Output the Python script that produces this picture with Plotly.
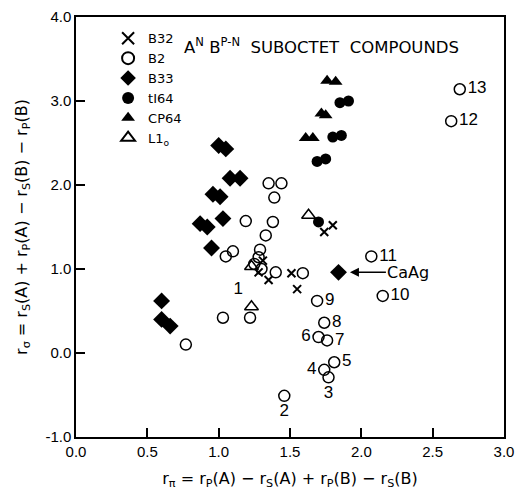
import plotly.graph_objects as go

# ---- data ----
b32_x = [1.31, 1.28, 1.35, 1.51, 1.55, 1.74, 1.80]
b32_y = [1.10, 0.96, 0.87, 0.95, 0.76, 1.44, 1.52]

b2_x = [1.35, 1.44, 1.39, 1.19, 1.38, 1.33, 1.29, 1.28, 1.25, 1.30, 1.40, 1.59,
        1.05, 1.10, 1.03, 1.22, 0.77,
        1.46, 1.77, 1.74, 1.81, 1.70, 1.76, 1.74, 1.69, 2.15, 2.07, 2.63, 2.69]
b2_y = [2.02, 2.02, 1.85, 1.57, 1.56, 1.40, 1.23, 1.14, 1.06, 1.00, 0.96, 0.95,
        1.15, 1.21, 0.42, 0.42, 0.10,
        -0.51, -0.29, -0.20, -0.11, 0.19, 0.15, 0.36, 0.62, 0.68, 1.15, 2.76, 3.14]
b2_labels = [""] * 17 + ["2", "3", "4", "5", "6", "7", "8", "9", "10", "11", "12", "13"]
b2_labelpos = ["middle right"] * 17 + ["bottom center", "bottom center", "middle left",
                                       "middle right", "middle left", "middle right",
                                       "middle right", "middle right", "middle right",
                                       "middle right", "middle right", "middle right"]

b33_x = [1.00, 1.05, 1.08, 1.15, 0.96, 1.01, 0.87, 0.92, 1.03, 0.95, 0.60, 0.60, 0.66, 1.84]
b33_y = [2.47, 2.43, 2.08, 2.08, 1.89, 1.86, 1.54, 1.50, 1.60, 1.25, 0.62, 0.40, 0.32, 0.96]

ti64_x = [1.85, 1.91, 1.80, 1.86, 1.69, 1.75, 1.70]
ti64_y = [2.98, 3.00, 2.57, 2.59, 2.28, 2.31, 1.56]

cp64_x = [1.76, 1.82, 1.72, 1.75, 1.61, 1.66]
cp64_y = [3.24, 3.23, 2.85, 2.83, 2.56, 2.56]

l10_x = [1.63, 1.23, 1.23]
l10_y = [1.64, 1.03, 0.55]
l10_labels = ["", "", "1"]

x_ticks = [0.0, 0.5, 1.0, 1.5, 2.0, 2.5, 3.0]
y_ticks = [-1.0, 0.0, 1.0, 2.0, 3.0, 4.0]

caag_point = (1.84, 0.96)
caag_text_x = 2.33

FONT = "Liberation Sans, Arial, sans-serif"
WIDE = "DejaVu Sans, Liberation Sans, sans-serif"
LBL = dict(family=FONT, size=17, color="black")
SP = "\u00a0"

fig = go.Figure()
fig.add_trace(go.Scatter(x=b32_x, y=b32_y, mode="markers", name="B32",
                         marker=dict(symbol="x-thin", size=8, color="black",
                                     line=dict(width=2, color="black"))))
fig.add_trace(go.Scatter(x=b2_x, y=b2_y, mode="markers+text", name="B2",
                         text=b2_labels, textposition=b2_labelpos, textfont=LBL,
                         marker=dict(symbol="circle-open", size=11, color="black",
                                     line=dict(width=1.5, color="black"))))
fig.add_trace(go.Scatter(x=b33_x, y=b33_y, mode="markers", name="B33",
                         marker=dict(symbol="diamond", size=13, color="black")))
fig.add_trace(go.Scatter(x=ti64_x, y=ti64_y, mode="markers", name="tI64",
                         marker=dict(symbol="circle", size=11, color="black")))
fig.add_trace(go.Scatter(x=cp64_x, y=cp64_y, mode="markers", name="CP64",
                         marker=dict(symbol="triangle-up", size=12, color="black")))
fig.add_trace(go.Scatter(x=l10_x, y=l10_y, mode="markers+text", name="L1<sub>o</sub>",
                         text=l10_labels, textposition="top left", textfont=LBL,
                         marker=dict(symbol="triangle-up-open", size=12, color="black",
                                     line=dict(width=1.5, color="black"))))

fig.add_annotation(x=caag_point[0] + 0.08, y=caag_point[1], ax=caag_text_x, ay=caag_point[1],
                   xref="x", yref="y", axref="x", ayref="y", text="CaAg",
                   showarrow=True, arrowhead=2, arrowsize=1.2, arrowwidth=1.5,
                   arrowcolor="black", standoff=0, font=dict(family=WIDE, size=16, color="black"))

fig.add_annotation(x=0.74, y=3.66, xref="x", yref="y", xanchor="left", yanchor="middle",
                   text=f"A<sup>N</sup>{SP}B<sup>P-N</sup>{SP}{SP}SUBOCTET{SP}{SP}COMPOUNDS",
                   showarrow=False,
                   font=dict(family=WIDE, size=16.5, color="black"))

axis_common = dict(showgrid=False, zeroline=False, showline=True, linecolor="black",
                   linewidth=1.5, mirror=True, ticks="inside", ticklen=9, tickwidth=1.5,
                   tickcolor="black", tickfont=dict(family=FONT, size=15, color="black"),
                   automargin=False, ticklabeloverflow="allow")

fig.update_layout(
    width=515, height=491,
    margin=dict(l=76, r=11, t=17, b=54),
    paper_bgcolor="white", plot_bgcolor="white",
    font=dict(family=FONT, color="black"),
    xaxis=dict(range=[0, 3.0], tickvals=x_ticks, ticktext=[f"{v:.1f}" for v in x_ticks],
               title=dict(text="r<sub>π</sub> = r<sub>P</sub>(A) − r<sub>S</sub>(A) + r<sub>P</sub>(B) − r<sub>S</sub>(B)",
                          font=dict(family=WIDE, size=16), standoff=14),
               **axis_common),
    yaxis=dict(range=[-1.0, 4.0], tickvals=y_ticks, ticktext=[f"{v:.1f}" for v in y_ticks],
               title=dict(text="r<sub>σ</sub> = r<sub>S</sub>(A) + r<sub>P</sub>(A) − r<sub>S</sub>(B) − r<sub>P</sub>(B)",
                          font=dict(family=WIDE, size=16), standoff=14),
               **axis_common),
    showlegend=True,
    legend=dict(x=0.075, y=0.985, xanchor="left", yanchor="top", bgcolor="rgba(0,0,0,0)",
                font=dict(family=WIDE, size=13, color="black"), tracegroupgap=0,
                itemsizing="constant"),
)

fig.write_html("out.html")
